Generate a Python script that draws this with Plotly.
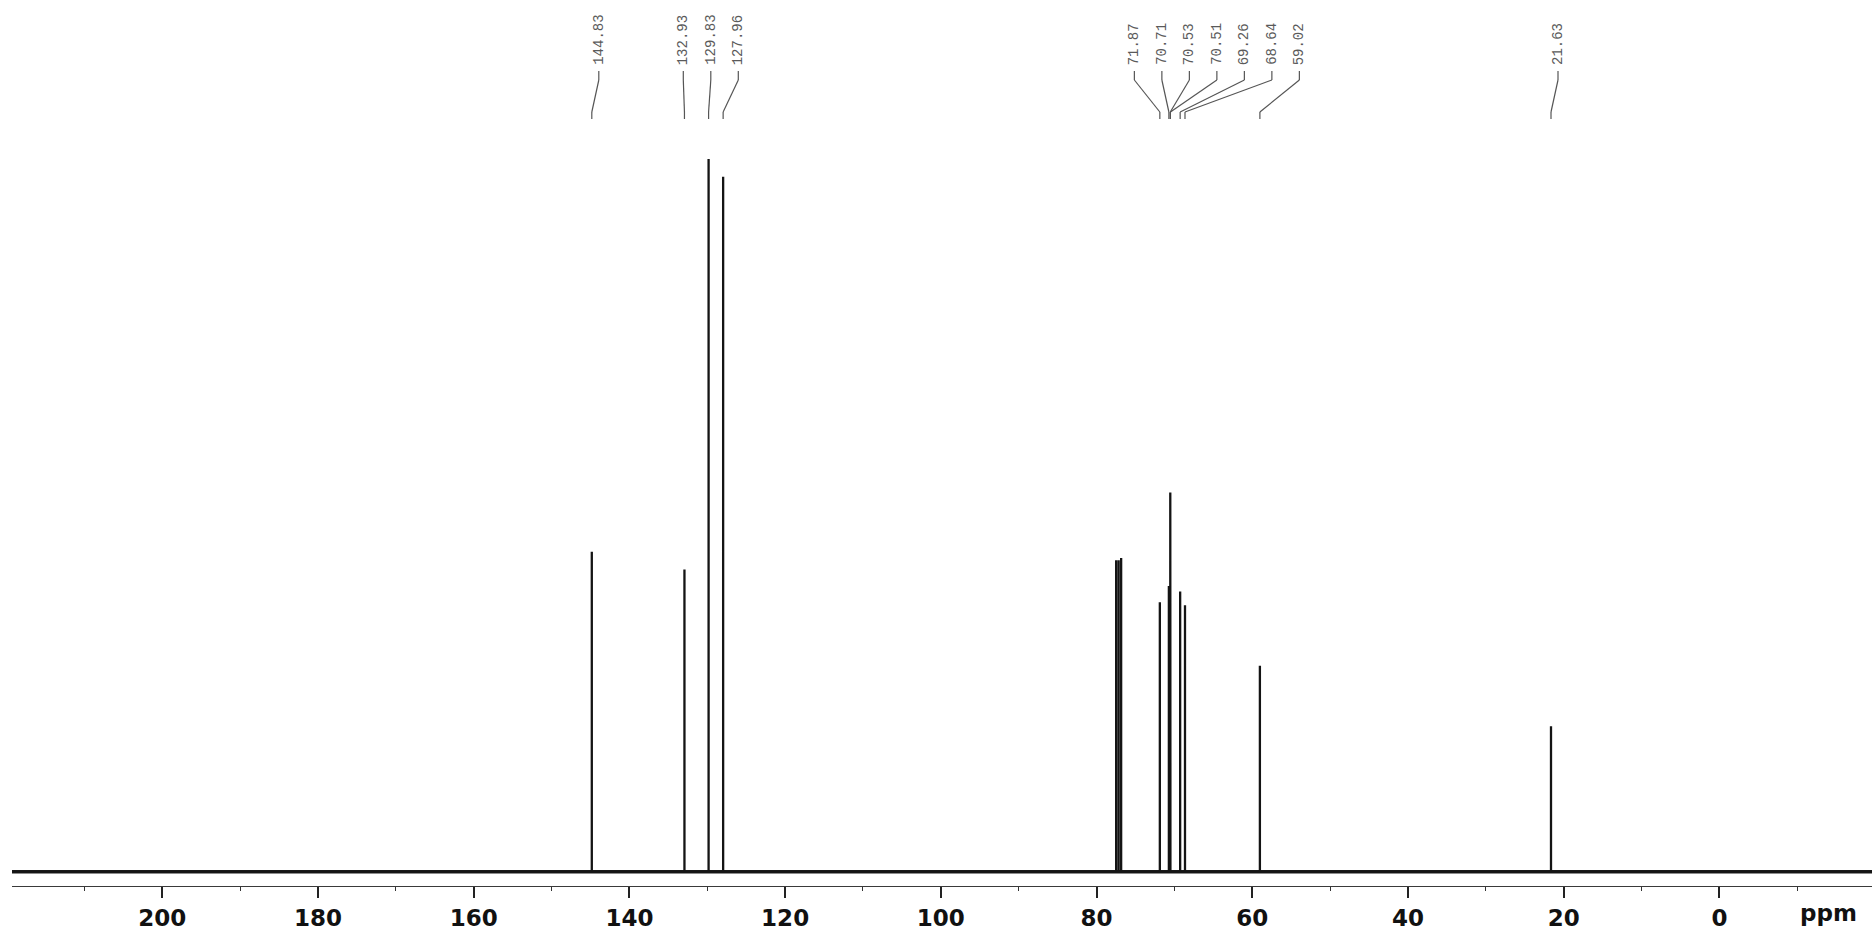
import plotly.graph_objects as go

# ---- data (13C NMR, ppm / relative intensity) ----
peak_ppm = [144.83, 132.93, 129.83, 127.96, 77.48, 77.16, 76.84,
            71.87, 70.71, 70.53, 70.51, 69.26, 68.64, 59.02, 21.63]
peak_int = [44.9, 42.4, 100.0, 97.5, 43.7, 43.7, 44.0,
            37.8, 40.1, 53.2, 50.0, 39.3, 37.4, 28.9, 20.4]
label_ppm = [144.83, 132.93, 129.83, 127.96,
             71.87, 70.71, 70.53, 70.51, 69.26, 68.64, 59.02, 21.63]
x_range = [219.3, -19.6]
tick_step = 20
minor_step = 10

# ---- layout constants ----
W, H = 1875, 932
ML, MR, MT, MB = 12, 3, 0, 46
plot_w = W - ML - MR
plot_h = H - MT - MB
px_per_ppm = plot_w / (x_range[0] - x_range[1])
baseline_px = 14.3            # baseline height above x axis line (px)
px_per_unit = 7.127           # px per intensity unit
y_range = [-baseline_px / px_per_unit, (plot_h - baseline_px) / px_per_unit]


def paper_y(py):
    return (plot_h - (py - MT)) / plot_h


# ---- stick spectrum path ----
xs, ys = [x_range[0]], [0]
for p, h in sorted(zip(peak_ppm, peak_int), key=lambda t: -t[0]):
    xs += [p, p, p]
    ys += [0, h, 0]
xs.append(x_range[1])
ys.append(0)

fig = go.Figure()
# baseline band (noise floor)
fig.add_trace(go.Scatter(x=[x_range[0], x_range[1]], y=[0, 0], mode="lines",
                         line=dict(color="#1c1c1c", width=3.6),
                         hoverinfo="skip", showlegend=False))
fig.add_trace(go.Scatter(x=xs, y=ys, mode="lines",
                         line=dict(color="#141414", width=2.3),
                         hoverinfo="skip", showlegend=False))

# ---- label placement (clusters spread around extremes' midpoint) ----
spacing = 27.5 / px_per_ppm
offset = 7 / px_per_ppm
labs = sorted(label_ppm, reverse=True)
clusters = [[labs[0]]]
for p in labs[1:]:
    prev = clusters[-1]
    if prev[-1] - p < spacing * 3.0:
        prev.append(p)
    else:
        clusters.append([p])
label_pos = {}
for c in clusters:
    mid = (c[0] + c[-1]) / 2 - offset
    n = len(c)
    for i, p in enumerate(c):
        label_pos[p] = mid + (n - 1) / 2 * spacing - i * spacing

shapes = []
annotations = []
for p in labs:
    lx = label_pos[p]
    annotations.append(dict(
        x=lx, y=paper_y(67), xref="x", yref="paper",
        text=f"{p:.2f}", showarrow=False, textangle=-90,
        xanchor="center", yanchor="bottom",
        font=dict(family="Liberation Mono, DejaVu Sans Mono, monospace",
                  size=14, color="#5a5a5a")))
    path_x = [lx, lx, p, p]
    path_y = [paper_y(71), paper_y(80), paper_y(112), paper_y(119)]
    for i in range(3):
        shapes.append(dict(type="line", xref="x", yref="paper",
                           x0=path_x[i], x1=path_x[i + 1],
                           y0=path_y[i], y1=path_y[i + 1],
                           line=dict(color="#555555", width=1.2)))

annotations.append(dict(
    x=-13.96, y=paper_y(913), xref="x", yref="paper", text="ppm",
    showarrow=False, xanchor="center", yanchor="middle",
    font=dict(family="DejaVu Sans", size=23, color="#111111", weight="bold")))

fig.update_layout(
    width=W, height=H,
    margin=dict(l=ML, r=MR, t=MT, b=MB, pad=0),
    paper_bgcolor="white", plot_bgcolor="white",
    shapes=shapes, annotations=annotations,
    xaxis=dict(range=x_range, showgrid=False, zeroline=False,
               showline=True, linecolor="#3a3a3a", linewidth=1,
               ticks="outside", ticklen=11, tickwidth=1.6, tickcolor="#222",
               tick0=0, dtick=tick_step,
               minor=dict(dtick=minor_step, tick0=0, ticks="outside",
                          ticklen=4, tickwidth=1.4, tickcolor="#333"),
               tickfont=dict(family="DejaVu Sans", size=23, color="#111111",
                             weight="bold"),
               ticklabelstandoff=0),
    yaxis=dict(range=y_range, visible=False, showgrid=False, zeroline=False),
)

fig.write_html("out.html")
